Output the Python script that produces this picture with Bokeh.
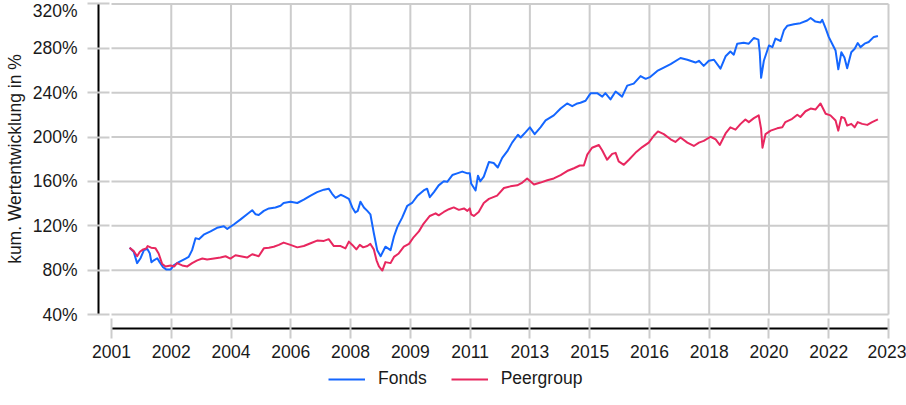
from bokeh.plotting import figure
from bokeh.models import (Range1d, FixedTicker, CustomJSTickFormatter, PrintfTickFormatter,
                          Legend, LegendItem)
from bokeh.embed import file_html
from bokeh.resources import INLINE

# ---------------- data ----------------
fonds_x = [2001.63, 2001.75, 2001.85, 2001.95, 2002.05, 2002.15, 2002.22, 2002.27, 2002.34, 2002.44,
           2002.51, 2002.61, 2002.71, 2002.83, 2002.92, 2003.07, 2003.27, 2003.36, 2003.46, 2003.56,
           2003.66, 2003.80, 2004.00, 2004.19, 2004.39, 2004.49, 2004.68, 2004.88, 2005.07, 2005.22,
           2005.32, 2005.41, 2005.56, 2005.71, 2005.90, 2006.05, 2006.14, 2006.34, 2006.54, 2006.73,
           2006.93, 2007.12, 2007.32, 2007.46, 2007.56, 2007.66, 2007.81, 2007.90, 2008.05, 2008.15,
           2008.24, 2008.31, 2008.39, 2008.49, 2008.59, 2008.68, 2008.78, 2008.88, 2008.98, 2009.12,
           2009.27, 2009.37, 2009.47, 2009.61, 2009.76, 2009.90, 2010.05, 2010.24, 2010.34, 2010.42,
           2010.54, 2010.68, 2010.83, 2010.93, 2011.08, 2011.22, 2011.37, 2011.52, 2011.59, 2011.63,
           2011.76, 2011.83, 2011.90, 2012.00, 2012.15, 2012.29, 2012.41, 2012.54, 2012.69, 2012.83,
           2013.00, 2013.08, 2013.22, 2013.35, 2013.49, 2013.66, 2013.81, 2014.05, 2014.25, 2014.44,
           2014.59, 2014.74, 2014.83, 2014.98, 2015.13, 2015.32, 2015.47, 2015.56, 2015.71, 2015.86,
           2016.05, 2016.20, 2016.39, 2016.59, 2016.74, 2016.88, 2017.08, 2017.27, 2017.47, 2017.76,
           2017.96, 2018.20, 2018.30, 2018.44, 2018.59, 2018.74, 2018.93, 2019.08, 2019.22, 2019.32,
           2019.42, 2019.61, 2019.76, 2019.91, 2020.04, 2020.08, 2020.12, 2020.20, 2020.35, 2020.45,
           2020.54, 2020.69, 2020.79, 2020.89, 2021.08, 2021.27, 2021.47, 2021.57, 2021.71, 2021.86,
           2021.91, 2022.01, 2022.10, 2022.20, 2022.30, 2022.38, 2022.47, 2022.56, 2022.64, 2022.76,
           2022.86, 2022.95, 2023.03, 2023.15, 2023.27, 2023.42, 2023.54]
fonds_y = [100.3, 96.6, 86.4, 90.8, 98.1, 99.1, 95.4, 87.1, 88.9, 90.8,
           87.3, 82.7, 80.6, 80.6, 84.3, 87.3, 90.5, 92.0, 98.1, 108.9,
           108.0, 112.0, 115.0, 118.2, 119.6, 117.2, 121.2, 125.8, 130.4, 134.1,
           130.4, 129.8, 133.5, 135.7, 136.6, 138.1, 140.6, 141.8, 140.6, 143.6,
           147.3, 150.4, 152.6, 153.5, 148.9, 145.2, 148.0, 146.8, 144.3, 136.6,
           132.0, 133.5, 141.8, 136.6, 133.5, 130.4, 113.5, 98.1, 92.6, 101.2,
           98.1, 110.4, 119.1, 127.4, 138.1, 140.6, 146.8, 151.9, 153.5, 145.8,
           150.4, 156.5, 160.2, 159.7, 165.8, 167.3, 168.9, 167.3, 167.3, 158.1,
           151.9, 165.2, 160.2, 164.3, 177.5, 176.6, 172.6, 181.2, 187.3, 195.0,
           202.1, 199.6, 204.2, 208.8, 202.7, 208.8, 215.0, 219.6, 225.7, 230.3,
           227.9, 230.3, 231.0, 232.8, 239.6, 239.6, 236.5, 239.6, 234.0, 241.1,
           236.5, 246.4, 248.2, 255.0, 252.5, 254.3, 259.6, 262.6, 265.8, 271.3,
           269.7, 267.2, 268.8, 264.2, 268.8, 269.7, 261.7, 272.8, 277.1, 274.3,
           284.2, 285.1, 284.2, 289.4, 287.9, 276.5, 253.4, 268.8, 282.6, 281.1,
           288.8, 286.6, 296.5, 300.4, 301.7, 302.7, 305.1, 307.3, 304.1, 303.2,
           305.7, 298.0, 290.3, 284.2, 278.0, 261.1, 276.5, 271.8, 262.1, 276.5,
           279.6, 284.8, 281.1, 284.2, 285.7, 290.3, 291.2]

peer_x = [2001.63, 2001.75, 2001.85, 2001.93, 2002.03, 2002.12, 2002.16, 2002.26, 2002.39, 2002.48,
          2002.58, 2002.68, 2002.83, 2002.94, 2003.02, 2003.17, 2003.32, 2003.46, 2003.61, 2003.76,
          2003.90, 2004.10, 2004.29, 2004.44, 2004.58, 2004.73, 2004.88, 2005.07, 2005.22, 2005.41,
          2005.56, 2005.71, 2005.85, 2006.00, 2006.14, 2006.34, 2006.54, 2006.73, 2006.93, 2007.12,
          2007.32, 2007.46, 2007.61, 2007.81, 2007.95, 2008.05, 2008.15, 2008.27, 2008.37, 2008.47,
          2008.59, 2008.68, 2008.78, 2008.86, 2008.93, 2009.03, 2009.12, 2009.27, 2009.37, 2009.51,
          2009.66, 2009.81, 2009.95, 2010.10, 2010.24, 2010.42, 2010.59, 2010.68, 2010.83, 2010.98,
          2011.12, 2011.27, 2011.42, 2011.52, 2011.59, 2011.63, 2011.71, 2011.85, 2012.00, 2012.15,
          2012.39, 2012.59, 2012.78, 2012.98, 2013.13, 2013.27, 2013.47, 2013.66, 2013.86, 2014.05,
          2014.25, 2014.44, 2014.64, 2014.81, 2014.93, 2015.03, 2015.17, 2015.37, 2015.47, 2015.61,
          2015.76, 2015.86, 2015.95, 2016.10, 2016.25, 2016.44, 2016.64, 2016.83, 2016.98, 2017.10,
          2017.27, 2017.47, 2017.61, 2017.76, 2017.96, 2018.15, 2018.30, 2018.44, 2018.64, 2018.79,
          2018.91, 2019.08, 2019.22, 2019.37, 2019.52, 2019.66, 2019.76, 2019.91, 2020.05, 2020.12,
          2020.16, 2020.25, 2020.40, 2020.59, 2020.74, 2020.83, 2021.03, 2021.18, 2021.27, 2021.42,
          2021.57, 2021.71, 2021.86, 2022.01, 2022.15, 2022.30, 2022.38, 2022.47, 2022.56, 2022.64,
          2022.76, 2022.86, 2022.95, 2023.08, 2023.23, 2023.37, 2023.54]
peer_y = [100.3, 97.2, 92.6, 96.6, 98.8, 99.7, 101.8, 100.3, 99.7, 95.1,
          85.9, 83.4, 84.3, 83.4, 86.4, 84.3, 83.4, 86.4, 88.9, 90.5,
          89.6, 90.5, 91.4, 92.6, 90.5, 93.5, 92.6, 91.4, 94.4, 92.6,
          99.7, 100.3, 101.2, 102.8, 104.9, 102.8, 100.6, 101.8, 104.3, 106.7,
          106.4, 108.0, 101.8, 101.8, 99.7, 105.8, 102.8, 98.8, 102.8, 100.6,
          101.8, 103.7, 98.8, 88.9, 83.4, 79.7, 87.3, 86.4, 92.0, 95.1,
          101.2, 103.7, 109.9, 115.0, 122.1, 128.9, 131.3, 129.5, 132.5, 135.0,
          136.6, 134.4, 135.7, 133.5, 135.7, 130.4, 128.9, 132.5, 140.6, 144.3,
          147.3, 154.1, 155.6, 156.5, 159.0, 162.7, 157.2, 159.0, 161.1, 162.7,
          165.8, 169.4, 171.9, 174.4, 174.4, 184.2, 190.4, 192.9, 187.9, 179.6,
          184.9, 185.8, 178.1, 175.0, 179.6, 185.8, 191.0, 195.0, 201.2, 205.1,
          202.7, 198.0, 195.6, 199.6, 195.0, 192.0, 195.0, 196.6, 200.3, 198.0,
          192.9, 203.3, 208.8, 206.7, 211.9, 215.9, 213.5, 217.1, 219.6, 207.3,
          190.4, 202.7, 205.8, 207.9, 208.8, 213.5, 216.5, 220.2, 218.1, 223.3,
          225.7, 224.8, 230.3, 221.1, 219.6, 215.0, 205.8, 218.1, 217.1, 210.4,
          211.9, 208.8, 213.5, 211.9, 211.0, 213.5, 215.9]

x_ticks = [2001.1, 2002.85, 2004.6, 2006.35, 2008.1, 2009.85, 2011.6, 2013.35,
           2015.1, 2016.85, 2018.6, 2020.35, 2022.1, 2023.85]
x_labels = ["2001", "2002", "2004", "2006", "2008", "2009", "2011", "2013",
            "2015", "2016", "2018", "2020", "2022", "2023"]
y_ticks = [40, 80, 120, 160, 200, 240, 280, 320]

series_names = ["Fonds", "Peergroup"]
y_title = "kum. Wertentwicklung in %"

# ---------------- styling ----------------
BLUE = "#1466ff"
RED = "#e8275f"
GRID = "#cccccc"
FONT = "Liberation Sans"
FS = "17.5px"
TXT = "#1a1a1a"

# the frame covers the whole canvas; both axes sit at fixed locations inside it
p = figure(width=906, height=389, title=None,
           min_border_left=0, min_border_right=0, min_border_top=0, min_border_bottom=0,
           x_range=Range1d(1997.85, 2024.377), y_range=Range1d(-27.52, 323.12),
           output_backend="svg", toolbar_location=None)
p.outline_line_color = None
p.xgrid.visible = False
p.ygrid.visible = False
p.background_fill_color = "white"
p.border_fill_color = "white"

# grid limited to the data region
nv = len(x_ticks) - 1
p.segment(x0=x_ticks[1:], x1=x_ticks[1:], y0=[y_ticks[0]] * nv, y1=[y_ticks[-1]] * nv,
          line_color=GRID, line_width=2)
nh = len(y_ticks)
p.segment(x0=[x_ticks[0]] * nh, x1=[x_ticks[-1]] * nh, y0=y_ticks, y1=y_ticks,
          line_color=GRID, line_width=2)

r1 = p.line(fonds_x, fonds_y, line_color=BLUE, line_width=2, line_join="round")
r2 = p.line(peer_x, peer_y, line_color=RED, line_width=2, line_join="round")

xa = p.xaxis[0]
xa.fixed_location = 27.55
xa.ticker = FixedTicker(ticks=x_ticks)
xa.formatter = CustomJSTickFormatter(args=dict(labels=x_labels), code="return labels[index];")
xa.bounds = (x_ticks[0], x_ticks[-1])
xa.axis_line_color = "black"
xa.axis_line_width = 2
xa.major_tick_line_color = GRID
xa.major_tick_line_width = 2
xa.major_tick_in = 10
xa.major_tick_out = 10
xa.minor_tick_line_color = None
xa.major_label_standoff = 7
xa.major_label_text_font = FONT
xa.major_label_text_font_size = FS
xa.major_label_text_color = TXT

ya = p.yaxis[0]
ya.fixed_location = 2000.7193
ya.ticker = FixedTicker(ticks=y_ticks)
ya.formatter = PrintfTickFormatter(format="%d%%")
ya.bounds = (y_ticks[0], y_ticks[-1])
ya.axis_line_color = "black"
ya.axis_line_width = 2
ya.major_tick_line_color = GRID
ya.major_tick_line_width = 2
ya.major_tick_in = 11
ya.major_tick_out = 11
ya.minor_tick_line_color = None
ya.major_label_standoff = 10
ya.major_label_text_font = FONT
ya.major_label_text_font_size = FS
ya.major_label_text_color = TXT
ya.axis_label = y_title
ya.axis_label_text_font = FONT
ya.axis_label_text_font_size = FS
ya.axis_label_text_font_style = "normal"
ya.axis_label_text_color = TXT
ya.axis_label_standoff = 5

legend = Legend(items=[LegendItem(label=series_names[0], renderers=[r1]),
                       LegendItem(label=series_names[1], renderers=[r2])],
                orientation="horizontal", location=(328, 0),
                border_line_color=None, background_fill_alpha=0,
                glyph_width=37, glyph_height=18, label_height=18,
                label_standoff=13, spacing=24, padding=0, margin=0,
                label_text_font=FONT, label_text_font_size=FS, label_text_color=TXT)
p.add_layout(legend, "center")

open("out.html", "w").write(file_html(p, INLINE))
